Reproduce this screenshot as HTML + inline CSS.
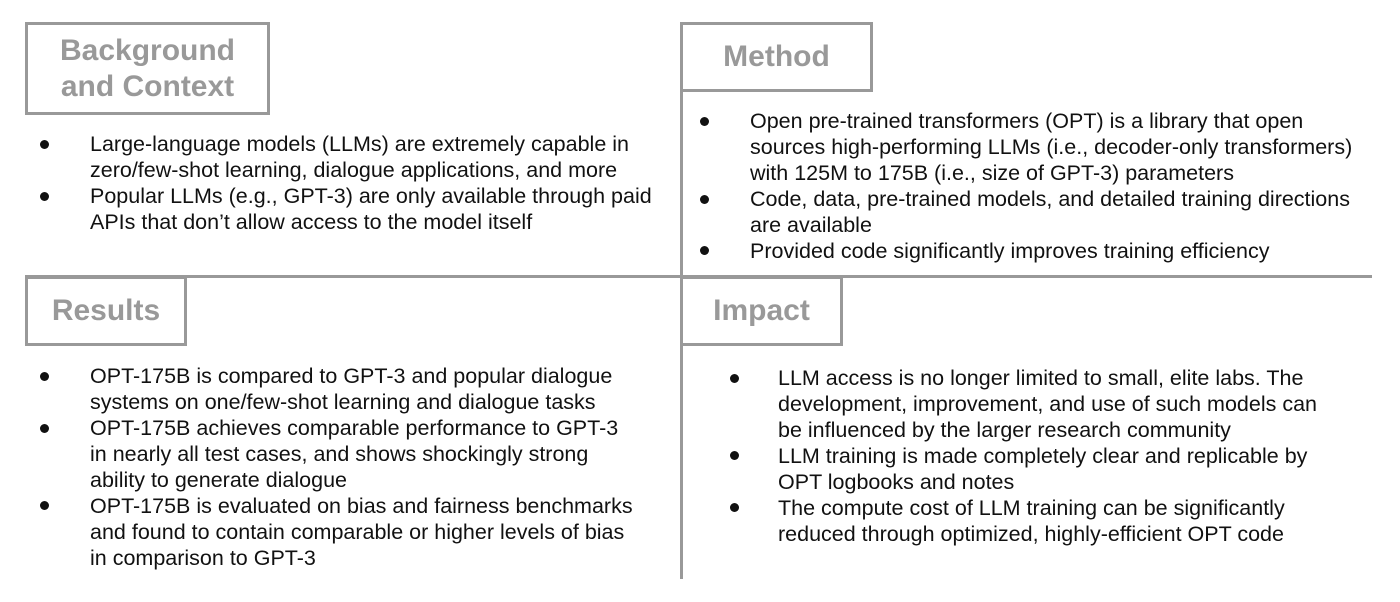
<!DOCTYPE html>
<html><head><meta charset="utf-8"><style>
body{margin:0;width:1400px;height:602px;background:#fff;position:relative;overflow:hidden;font-family:"Liberation Sans",Arial,sans-serif;}
.l{position:absolute;background:#999;}
.box{position:absolute;border:3px solid #999;box-sizing:border-box;color:#999;font-weight:bold;font-size:30px;display:flex;align-items:center;justify-content:center;text-align:center;line-height:36px;}
.t{position:absolute;font-size:21.5px;line-height:26px;color:#111;white-space:nowrap;}
.b{position:absolute;width:9px;height:9px;border-radius:50%;background:#111;}
</style></head><body>
<div class="l" style="left:680px;top:22px;width:3px;height:557px"></div>
<div class="l" style="left:25px;top:275px;width:1347px;height:3px"></div>

<div class="box" style="left:25px;top:22px;width:245px;height:93px">Background<br>and Context</div>
<div class="box" style="left:680px;top:22px;width:193px;height:70px">Method</div>
<div class="box" style="left:25px;top:276px;width:162px;height:70px">Results</div>
<div class="box" style="left:680px;top:276px;width:163px;height:70px">Impact</div>

<div class="b" style="left:40px;top:140px"></div>
<div class="b" style="left:40px;top:192px"></div>
<div class="t" style="left:90px;top:131px">Large-language models (LLMs) are extremely capable in<br>zero/few-shot learning, dialogue applications, and more<br>Popular LLMs (e.g., GPT-3) are only available through paid<br>APIs that don’t allow access to the model itself</div>

<div class="b" style="left:700px;top:117px"></div>
<div class="b" style="left:700px;top:195px"></div>
<div class="b" style="left:700px;top:246px"></div>
<div class="t" style="left:750px;top:108px">Open pre-trained transformers (OPT) is a library that open<br>sources high-performing LLMs (i.e., decoder-only transformers)<br>with 125M to 175B (i.e., size of GPT-3) parameters<br>Code, data, pre-trained models, and detailed training directions<br>are available<br>Provided code significantly improves training efficiency</div>

<div class="b" style="left:40px;top:372px"></div>
<div class="b" style="left:40px;top:424px"></div>
<div class="b" style="left:40px;top:501px"></div>
<div class="t" style="left:90px;top:363px">OPT-175B is compared to GPT-3 and popular dialogue<br>systems on one/few-shot learning and dialogue tasks<br>OPT-175B achieves comparable performance to GPT-3<br>in nearly all test cases, and shows shockingly strong<br>ability to generate dialogue<br>OPT-175B is evaluated on bias and fairness benchmarks<br>and found to contain comparable or higher levels of bias<br>in comparison to GPT-3</div>

<div class="b" style="left:730px;top:374px"></div>
<div class="b" style="left:730px;top:451px"></div>
<div class="b" style="left:730px;top:503px"></div>
<div class="t" style="left:778px;top:365px">LLM access is no longer limited to small, elite labs. The<br>development, improvement, and use of such models can<br>be influenced by the larger research community<br>LLM training is made completely clear and replicable by<br>OPT logbooks and notes<br>The compute cost of LLM training can be significantly<br>reduced through optimized, highly-efficient OPT code</div>
</body></html>
